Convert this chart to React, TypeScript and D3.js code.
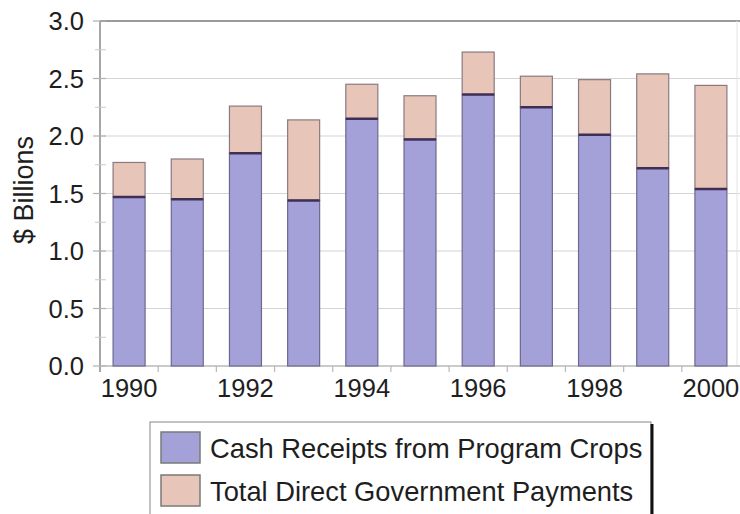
import React from "react";
import * as d3 from "d3";

const years = ["1990","1991","1992","1993","1994","1995","1996","1997","1998","1999","2000"];
const cashReceipts = [1.47, 1.45, 1.85, 1.44, 2.15, 1.97, 2.36, 2.25, 2.01, 1.72, 1.54];
const totalTop = [1.77, 1.80, 2.26, 2.14, 2.45, 2.35, 2.73, 2.52, 2.49, 2.54, 2.44];
const govPayments = totalTop.map((t, i) => +(t - cashReceipts[i]).toFixed(2));
const yTicks = [0, 0.5, 1.0, 1.5, 2.0, 2.5, 3.0];
const yMinorTicks = [0.25, 0.75, 1.25, 1.75, 2.25, 2.75];
const xLabelYears = ["1990","1992","1994","1996","1998","2000"];
const seriesNames = ["Cash Receipts from Program Crops", "Total Direct Government Payments"];

const W = 740, H = 514;
const CASH = "#a4a0d8";
const PAY = "#e8c5b9";
const FONT = "'Liberation Sans', Arial, sans-serif";

export default function App() {
  const x = d3.scaleBand<string>().domain(years).range([100, 740]).paddingInner(0.45).paddingOuter(0.225);
  const y = d3.scaleLinear().domain([0, 3]).range([366, 21]);
  const step = x.step();
  const boundaries = years.slice(1).map((yr) => (x(yr) as number) - (step - x.bandwidth()) / 2);

  return (
    <svg width={W} height={H} style={{ position: "absolute", left: 0, top: 0, background: "#fff" }} fontFamily={FONT}>
      {yTicks.slice(1, -1).map((t) => (
        <line key={"g" + t} x1={100} x2={740} y1={y(t)} y2={y(t)} stroke="#d4d4d4" strokeWidth={1.2} />
      ))}
      <line x1={100} x2={740} y1={y(3)} y2={y(3)} stroke="#9a9a9a" strokeWidth={2} />
      <line x1={737} x2={737} y1={y(3)} y2={y(0)} stroke="#e4e4e4" strokeWidth={1} />
      <line x1={100} x2={100} y1={y(3)} y2={372} stroke="#8a8a8a" strokeWidth={1.5} />
      {yTicks.map((t) => (
        <line key={"t" + t} x1={93} x2={106} y1={y(t)} y2={y(t)} stroke="#b0b0b0" strokeWidth={1.2} />
      ))}
      {yMinorTicks.map((t) => (
        <line key={"m" + t} x1={95} x2={106} y1={y(t)} y2={y(t)} stroke="#c8c8c8" strokeWidth={1} />
      ))}
      {yTicks.map((t) => (
        <text key={"l" + t} x={84} y={y(t) + 9} textAnchor="end" fontSize={25.5} fill="#1e1e1e">
          {t.toFixed(1)}
        </text>
      ))}
      <text transform={`translate(33,190) rotate(-90)`} textAnchor="middle" fontSize={27} fill="#1e1e1e">
        $ Billions
      </text>
      <line x1={100} x2={740} y1={y(0)} y2={y(0)} stroke="#b8b8b8" strokeWidth={1.5} />
      {boundaries.map((b, i) => (
        <line key={"xb" + i} x1={b} x2={b} y1={y(0)} y2={y(0) + 6} stroke="#b8b8b8" strokeWidth={1.2} />
      ))}
      {xLabelYears.map((yr) => (
        <text key={"xl" + yr} x={(x(yr) as number) + x.bandwidth() / 2} y={397} textAnchor="middle" fontSize={25.5} fill="#1e1e1e">
          {yr}
        </text>
      ))}
      {years.map((yr, i) => {
        const bx = x(yr) as number;
        const bw = x.bandwidth();
        const c = cashReceipts[i];
        const p = govPayments[i];
        return (
          <g key={yr}>
            <rect x={bx} y={y(c + p)} width={bw} height={y(c) - y(c + p)} fill={PAY} stroke="#8a7a80" strokeWidth={1.2} />
            <rect x={bx} y={y(c)} width={bw} height={y(0) - y(c)} fill={CASH} stroke="#6e6890" strokeWidth={1.2} />
            <line x1={bx} x2={bx + bw} y1={y(c)} y2={y(c)} stroke="#3e2f55" strokeWidth={2.5} />
          </g>
        );
      })}
      <rect x={150} y={422} width={501} height={100} fill="#fff" stroke="#9a9a9a" strokeWidth={1.2} />
      <line x1={652} x2={652} y1={424} y2={514} stroke="#111" strokeWidth={3} />
      {seriesNames.map((n, i) => (
        <g key={n}>
          <rect x={161} y={432 + i * 43} width={39} height={31} fill={i === 0 ? CASH : PAY} stroke="#7a7a7a" strokeWidth={1.5} />
          <text x={210} y={458 + i * 43} fontSize={27.3} fill="#1e1e1e">{n}</text>
        </g>
      ))}
    </svg>
  );
}
